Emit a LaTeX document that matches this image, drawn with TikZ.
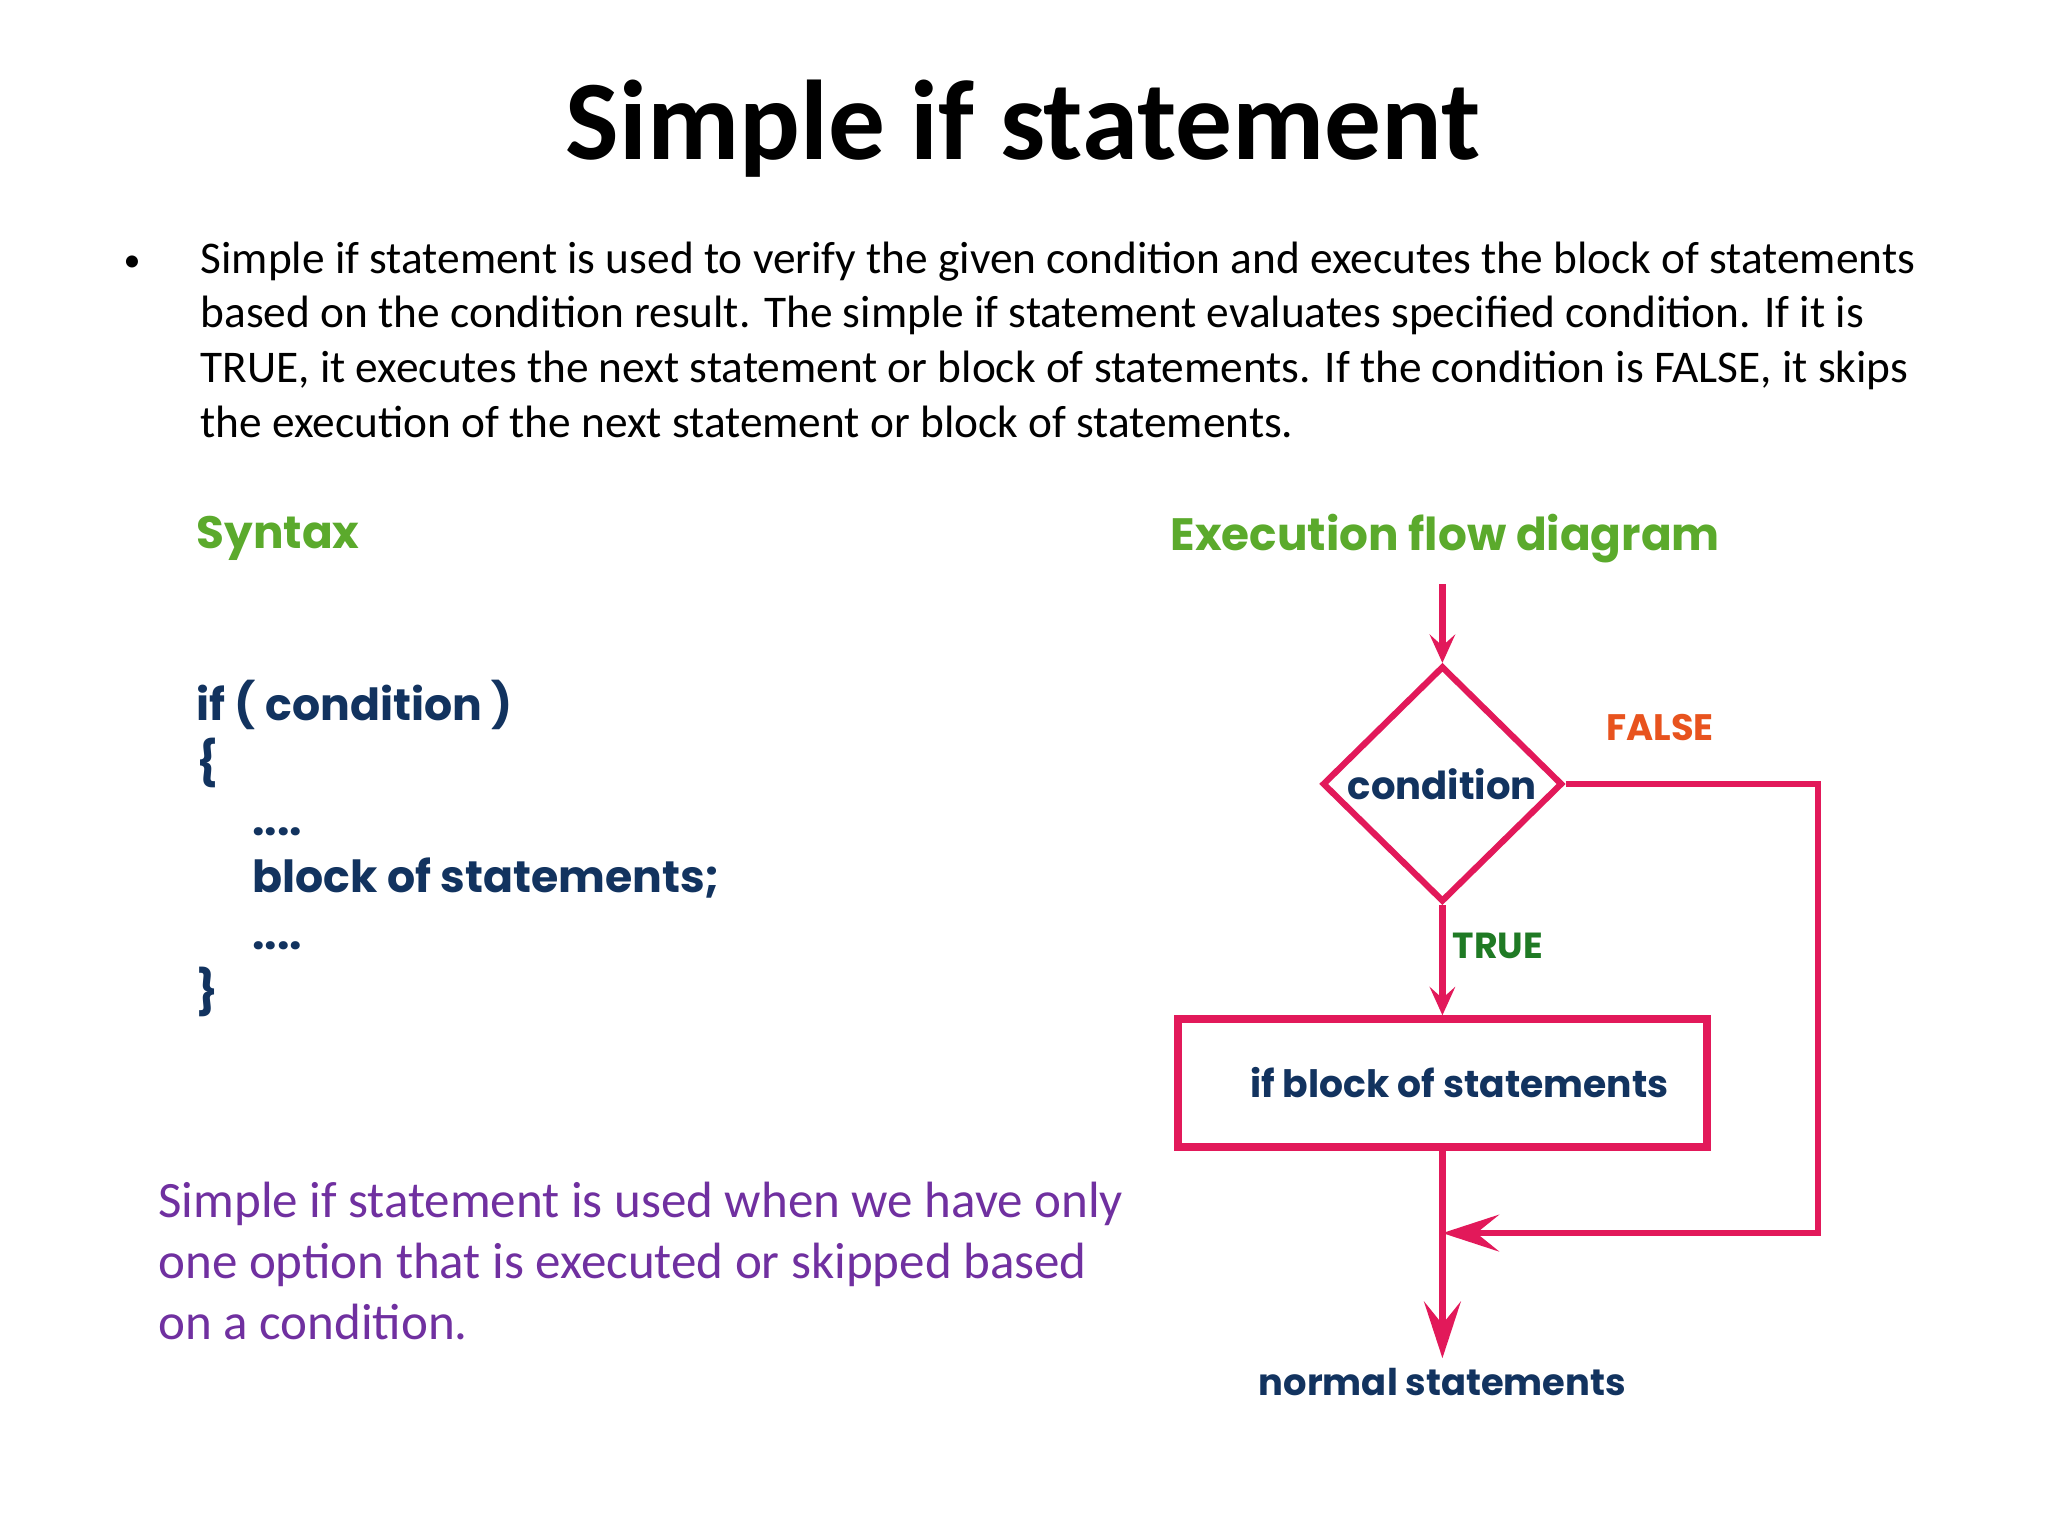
\documentclass[tikz,border=0pt]{standalone}
\usepackage{fontspec}
\setmainfont{Carlito}
\newfontfamily\gothic{Poppins}
\usetikzlibrary{shapes.geometric,arrows.meta}

\definecolor{flowpink}{HTML}{E2195A}
\definecolor{codeblue}{HTML}{12335F}
\definecolor{headgreen}{HTML}{5BAA2C}
\definecolor{truegreen}{HTML}{1F7A24}
\definecolor{falseorange}{HTML}{E8531E}
\definecolor{notepurple}{HTML}{7030A0}

\begin{document}
\begin{tikzpicture} [x=1in,y=1in,
  heading/.style={anchor=west, inner sep=0pt, text=headgreen,
    font=\gothic\bfseries\fontsize{16}{19}\selectfont},
  flowtext/.style={text=codeblue, font=\gothic\bfseries\fontsize{13.3}{16}\selectfont},
  flowline/.style={draw=flowpink, line width=2.2pt},
  smalltip/.style={-{Stealth[inset=4pt, length=10pt, width=9pt]}},
  bigtip/.style={-{Stealth[inset=8pt, length=20pt, width=13pt]}}]

\fill [white] (0,0) rectangle (10,7.5);
\useasboundingbox (0,0) rectangle (10,7.5);
%\draw [step=0.5in, dotted] (0,0) grid (10,7.5);

\node (title) [anchor=base, font=\bfseries\fontsize{40}{48}\selectfont] at (4.995,6.722) {Simple if statement};

\node (dot) [anchor=base, font=\fontsize{12}{14}\selectfont] at (0.645,6.175) {•};
\node (intro) [anchor=north west, align=left, inner sep=0pt, font=\fontsize{16}{19.3}\selectfont] at (0.977,6.323)
  {Simple if statement is used to verify the given condition and executes the block of statements\\
   based on the condition result. The simple if statement evaluates specified condition. If it is\\
   TRUE, it executes the next statement or block of statements. If the condition is FALSE, it skips\\
   the execution of the next statement or block of statements.};

\node (syntax) [heading] at (0.957,4.871) {Syntax};
\node (exechead) [heading] at (5.713,4.871) {Execution flow diagram};

\node (code) [anchor=north west, align=left, inner sep=0pt, text=codeblue,
  font=\gothic\bfseries\fontsize{15.6}{20.2}\selectfont] at (0.957,4.18)
  {if ( condition )\\
   \{\\
   \hspace*{19.7pt}....\\
   \hspace*{19.7pt}block of statements;\\
   \hspace*{19.7pt}....\\
   \}};

\node (note) [anchor=north west, align=left, inner sep=0pt, text=notepurple,
  font=\fontsize{18}{21.6}\selectfont] at (0.771,1.732)
  {Simple if statement is used when we have only\\
   one option that is executed or skipped based\\
   on a condition.};

% flow diagram
\coordinate (entry) at (7.043,4.648);
\node (cond) [diamond, draw=flowpink, line width=2.2pt, minimum width=1.172in, minimum height=1.152in,
  inner sep=0pt, flowtext, font=\gothic\bfseries\fontsize{13.6}{16}\selectfont] at (7.043,3.672) {condition};
\node (ifblock) [rectangle, draw=flowpink, line width=2.6pt, minimum width=2.583in, minimum height=0.625in,
  flowtext] at (7.043,2.212) {\hspace*{12pt}if block of statements};
\node (normal) [flowtext, font=\gothic\bfseries\fontsize{13}{16}\selectfont] at (7.043,0.752) {normal statements};
\node (false) [text=falseorange, font=\gothic\bfseries\fontsize{13}{15}\selectfont] at (8.105,3.95) {FALSE};
\node (true) [text=truegreen, font=\gothic\bfseries\fontsize{12.8}{15}\selectfont] at (7.314,2.881) {TRUE};
\coordinate (fturn) at (8.877,1.479);
\coordinate (merge) at (ifblock.south |- fturn);

\draw [flowline, smalltip] (entry) -- (cond.north);
\draw [flowline, smalltip] (cond.south) -- (ifblock.north);
\draw [flowline, bigtip] (ifblock.south) -- (normal.north);
\draw [flowline, bigtip] (cond.east) -| (fturn) -- (merge);

\end{tikzpicture}
\end{document}
